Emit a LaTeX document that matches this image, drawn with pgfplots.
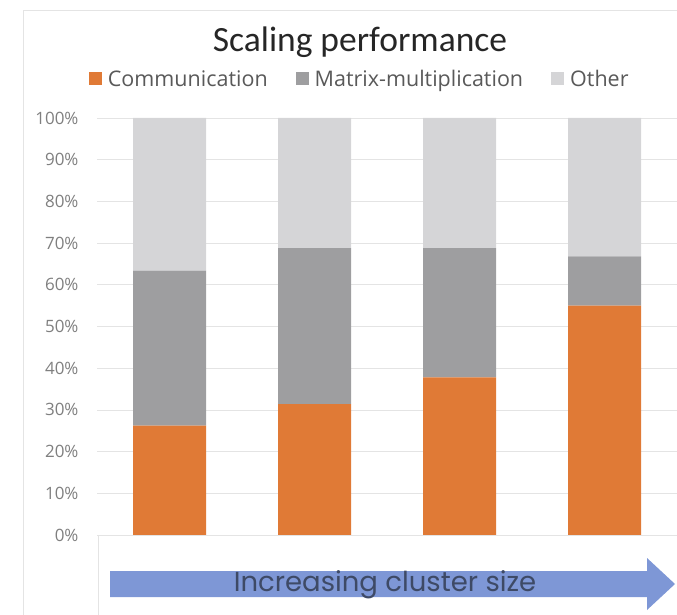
\documentclass[border=0pt]{standalone}
\usepackage{pgfplots}
\pgfplotsset{compat=1.18}
\usepackage{fontspec}
\setmainfont{Open Sans}
\newfontfamily\titlefont{Carlito}
\newfontfamily\arrowfont{Poppins}
\definecolor{comm}{HTML}{E07A36}
\definecolor{mat}{HTML}{9E9EA0}
\definecolor{oth}{HTML}{D5D5D7}
\definecolor{arrowblue}{HTML}{7E97D6}
\definecolor{gridc}{HTML}{E4E4E4}
\definecolor{ticktext}{HTML}{7F7F7F}
\definecolor{legtext}{HTML}{595959}
\begin{document}
\begin{tikzpicture}
\path[use as bounding box] (0pt,0pt) rectangle (677pt,614pt);
\draw[gridc] (23pt,-5pt) -- (23pt,604pt) -- (690pt,604pt);
\begin{axis}[
  at={(97pt,79pt)}, anchor=south west,
  scale only axis, width=580pt, height=417pt,
  ybar stacked, bar width=73pt,
  xmin=-0.5, xmax=3.5, ymin=0, ymax=100,
  xtick=\empty,
  ytick={0,10,...,100},
  yticklabel={\pgfmathprintnumber{\tick}\%},
  /pgf/number format/assume math mode=true,
  yticklabel style={font=\fontsize{17}{19}\selectfont, text=ticktext, xshift=-15pt},
  major tick length=0pt,
  axis line style={draw=none},
  ymajorgrids, grid style={gridc, line width=0.8pt},
  clip=false,
  legend columns=3,
  legend style={draw=none, fill=none, at={(rel axis cs:0.453,1.0935)}, anchor=center,
    font=\fontsize{21.5}{24}\selectfont, text=legtext,
    /tikz/every odd column/.append style={column sep=4pt},
    /tikz/every even column/.append style={column sep=26pt}},
  legend image code/.code={\fill[#1] (-4pt,-6pt) rectangle (9pt,7pt);},
]
\addplot[fill=comm, draw=none] coordinates {(0,26.2) (1,31.4) (2,37.8) (3,55.0)};
\addplot[fill=mat, draw=none] coordinates {(0,37.2) (1,37.4) (2,31.0) (3,11.8)};
\addplot[fill=oth, draw=none] coordinates {(0,36.6) (1,31.2) (2,31.2) (3,33.2)};
\legend{Communication, Matrix-multiplication, Other}
\end{axis}
\node[font=\titlefont\fontsize{35.5}{40}\selectfont, text=black!85] at (360pt,572pt) {Scaling performance};
\draw[gridc] (98pt,-5pt) rectangle (690pt,79pt);
\fill[arrowblue] (110pt,17pt) -- (647pt,17pt) -- (647pt,4pt) -- (675pt,30pt) -- (647pt,56pt) -- (647pt,43pt) -- (110pt,43pt) -- cycle;
\node[font=\arrowfont\fontsize{27.5}{30}\selectfont, text={rgb,255:red,62;green,74;blue,102}] at (385pt,29pt) {Increasing cluster size};
\end{tikzpicture}
\end{document}
